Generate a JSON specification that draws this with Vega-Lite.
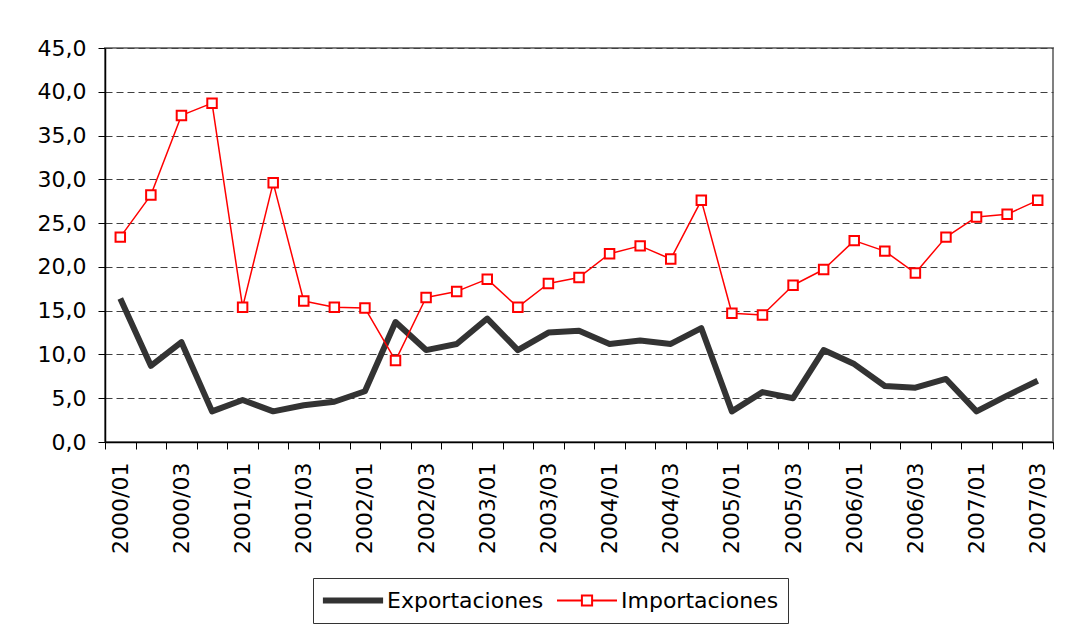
{
  "$schema": "https://vega.github.io/schema/vega-lite/v6.json",
  "width": 948,
  "height": 394,
  "autosize": {"type": "none"},
  "padding": {"left": 105, "top": 48, "right": 27, "bottom": 189},
  "background": "white",
  "config": {"font": "DejaVu Sans", "view": {"stroke": "#808080", "strokeWidth": 2}},
  "data": {"values": [
    {"q": "2000/01", "Exportaciones": 16.4, "Importaciones": 23.4},
    {"q": "2000/02", "Exportaciones": 8.7, "Importaciones": 28.2},
    {"q": "2000/03", "Exportaciones": 11.4, "Importaciones": 37.3},
    {"q": "2000/04", "Exportaciones": 3.5, "Importaciones": 38.7},
    {"q": "2001/01", "Exportaciones": 4.8, "Importaciones": 15.4},
    {"q": "2001/02", "Exportaciones": 3.5, "Importaciones": 29.6},
    {"q": "2001/03", "Exportaciones": 4.2, "Importaciones": 16.1},
    {"q": "2001/04", "Exportaciones": 4.6, "Importaciones": 15.4},
    {"q": "2002/01", "Exportaciones": 5.8, "Importaciones": 15.3},
    {"q": "2002/02", "Exportaciones": 13.7, "Importaciones": 9.3},
    {"q": "2002/03", "Exportaciones": 10.5, "Importaciones": 16.5},
    {"q": "2002/04", "Exportaciones": 11.2, "Importaciones": 17.2},
    {"q": "2003/01", "Exportaciones": 14.1, "Importaciones": 18.6},
    {"q": "2003/02", "Exportaciones": 10.5, "Importaciones": 15.4},
    {"q": "2003/03", "Exportaciones": 12.5, "Importaciones": 18.1},
    {"q": "2003/04", "Exportaciones": 12.7, "Importaciones": 18.8},
    {"q": "2004/01", "Exportaciones": 11.2, "Importaciones": 21.5},
    {"q": "2004/02", "Exportaciones": 11.6, "Importaciones": 22.4},
    {"q": "2004/03", "Exportaciones": 11.2, "Importaciones": 20.9},
    {"q": "2004/04", "Exportaciones": 13.0, "Importaciones": 27.6},
    {"q": "2005/01", "Exportaciones": 3.5, "Importaciones": 14.7},
    {"q": "2005/02", "Exportaciones": 5.7, "Importaciones": 14.5},
    {"q": "2005/03", "Exportaciones": 5.0, "Importaciones": 17.9},
    {"q": "2005/04", "Exportaciones": 10.5, "Importaciones": 19.7},
    {"q": "2006/01", "Exportaciones": 8.9, "Importaciones": 23.0},
    {"q": "2006/02", "Exportaciones": 6.4, "Importaciones": 21.8},
    {"q": "2006/03", "Exportaciones": 6.2, "Importaciones": 19.3},
    {"q": "2006/04", "Exportaciones": 7.2, "Importaciones": 23.4},
    {"q": "2007/01", "Exportaciones": 3.5, "Importaciones": 25.7},
    {"q": "2007/02", "Exportaciones": 5.3, "Importaciones": 26.0},
    {"q": "2007/03", "Exportaciones": 7.0, "Importaciones": 27.6}
  ]},
  "transform": [{"fold": ["Exportaciones", "Importaciones"], "as": ["serie", "v"]}],
  "encoding": {
    "x": {
      "field": "q", "type": "ordinal", "bandPosition": 0.5,
      "scale": {"type": "band", "paddingInner": 0, "paddingOuter": 0},
      "axis": {
        "title": null, "tickBand": "extent", "labelAngle": -90,
        "labelFontSize": 22, "labelColor": "black", "labelOverlap": false, "labelBound": false,
        "labelExpr": "(slice(''+datum.value,-2)=='01'||slice(''+datum.value,-2)=='03')?datum.value:''",
        "tickSize": 7, "tickColor": "black", "domainColor": "black", "domainWidth": 1.5,
        "labelPadding": 13, "grid": false
      }
    },
    "y": {
      "field": "v", "type": "quantitative",
      "scale": {"domain": [0, 45], "nice": false, "zero": true},
      "axis": {
        "title": null, "values": [0, 5, 10, 15, 20, 25, 30, 35, 40, 45],
        "labelExpr": "replace(format(datum.value,'.1f'),'.',',')",
        "labelFontSize": 22, "labelColor": "black", "domainColor": "black", "domainWidth": 1.5,
        "tickColor": "black", "tickSize": 7, "labelPadding": 12,
        "grid": true, "gridColor": "#404040", "gridDash": [7, 4], "gridWidth": 1
      }
    }
  },
  "layer": [
    {
      "mark": {"type": "line", "strokeJoin": "round"},
      "encoding": {
        "color": {
          "field": "serie", "type": "nominal",
          "scale": {"domain": ["Exportaciones", "Importaciones"], "range": ["#333333", "#ff0000"]},
          "legend": {
            "orient": "none", "legendX": 208, "legendY": 530, "direction": "horizontal",
            "title": null, "labelFontSize": 22, "labelColor": "black",
            "strokeColor": "#333333", "padding": 9, "symbolSize": 3600,
            "symbolStrokeWidth": 2, "clipHeight": 27,
            "labelOffset": 3, "columnPadding": 12,
            "encode": {
              "symbols": {"update": {
                "shape": {"signal": "datum.value === 'Exportaciones' ? 'M-0.97,-0.07H0.97V0.07H-0.97Z' : 'M-1,0H-0.17M0.17,0H1M-0.17,-0.17H0.17V0.17H-0.17Z'"},
                "fill": {"signal": "datum.value === 'Exportaciones' ? '#333333' : 'white'"}
              }}
            }
          }
        },
        "strokeWidth": {"condition": {"test": "datum.serie == 'Exportaciones'", "value": 6}, "value": 1.5}
      }
    },
    {
      "transform": [{"filter": "datum.serie == 'Importaciones'"}],
      "mark": {"type": "point", "shape": "square", "filled": false, "fill": "white", "stroke": "#ff0000", "strokeWidth": 2, "size": 90, "opacity": 1}
    }
  ]
}
